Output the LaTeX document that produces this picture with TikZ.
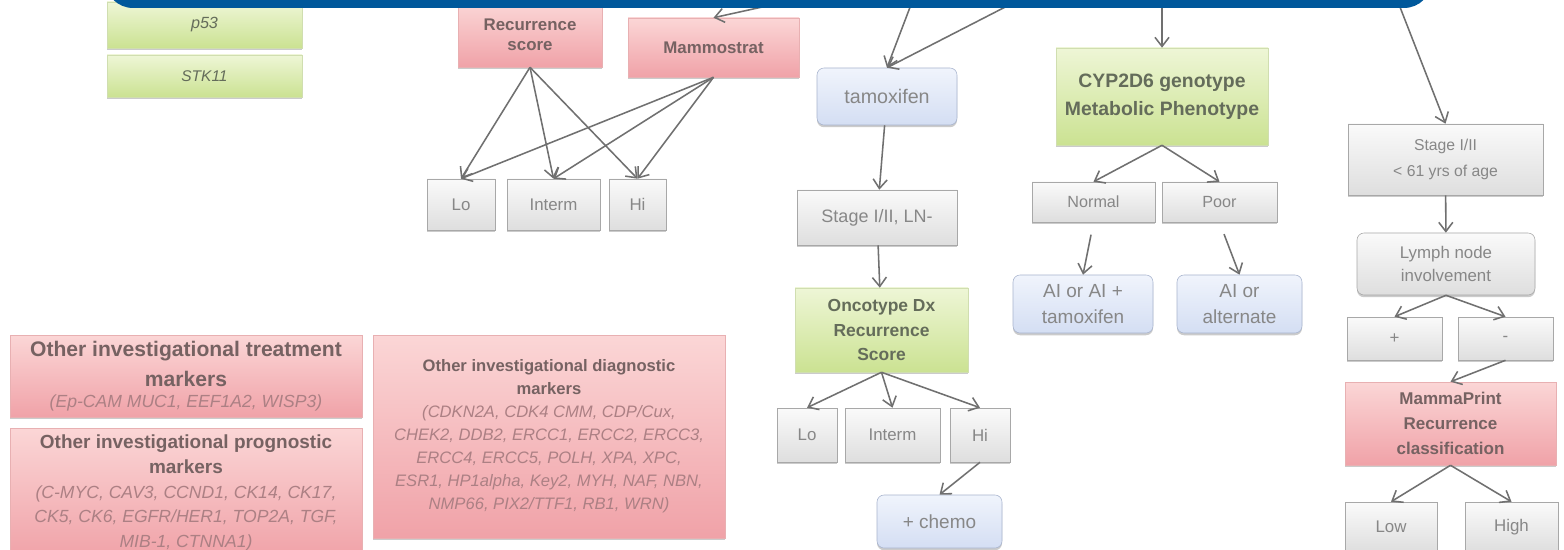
\documentclass[tikz,border=0pt]{standalone}
\usepackage{fontspec}
\setmainfont{Liberation Sans}
\usetikzlibrary{arrows.meta,shadows}

\definecolor{bandblue}{RGB}{0,88,155}
\definecolor{linegrey}{RGB}{112,112,112}
\definecolor{greyline}{RGB}{168,168,168}
\definecolor{greytop}{RGB}{250,250,250}
\definecolor{greybot}{RGB}{222,222,222}
\definecolor{greytext}{RGB}{135,135,135}
\definecolor{greentop}{RGB}{238,246,214}
\definecolor{greenbot}{RGB}{203,226,146}
\definecolor{greenline}{RGB}{208,222,176}
\definecolor{greentext}{RGB}{100,108,90}
\definecolor{pinktop}{RGB}{251,214,214}
\definecolor{pinkbot}{RGB}{240,162,168}
\definecolor{pinkline}{RGB}{232,176,178}
\definecolor{pinktext}{RGB}{118,98,98}
\definecolor{pinkital}{RGB}{172,128,132}
\definecolor{bluetop}{RGB}{240,244,252}
\definecolor{bluebot}{RGB}{212,222,243}
\definecolor{blueline}{RGB}{168,180,206}

\newcommand{\fsz}[2]{\fontsize{#1}{#2}\selectfont}
\newcommand{\mtitle}[2]{{\fsz{#1}{14.7}\bfseries\upshape\color{pinktext}#2}}

\begin{document}
\begin{tikzpicture}[x=0.025cm, y=-0.025cm,
    every node/.style={rectangle, align=center, inner sep=1pt},
    sz/.style 2 args={minimum width=#1*0.025cm, minimum height=#2*0.025cm},
    boxshadow/.style={drop shadow={shadow xshift=0pt, shadow yshift=-1.6pt, opacity=0.45, fill=black!45}},
    greybox/.style={draw=greyline, top color=greytop, bottom color=greybot, text=greytext, font=\fsz{12}{18}, boxshadow},
    bluebox/.style={greybox, rounded corners=5pt, draw=blueline, top color=bluetop, bottom color=bluebot, font=\fsz{13.5}{19}},
    greenbox/.style={draw=greenline, top color=greentop, bottom color=greenbot, text=greentext, font=\fsz{12.4}{17.5}\bfseries, boxshadow},
    pinkbox/.style={draw=pinkline, top color=pinktop, bottom color=pinkbot, text=pinktext, font=\fsz{12}{14.5}\bfseries, boxshadow},
    markerbox/.style={pinkbox, text=pinkital, font=\fsz{12.5}{15}\itshape},
    link/.style={->, draw=linegrey, line width=1.1pt},
    >={Straight Barb[length=6.5pt, width=10pt]}]
  \fill[white] (0,0) rectangle (1564,550);
  \useasboundingbox (0,0) rectangle (1564,550);

  \node[greenbox, sz={195}{46}, font=\fsz{11.5}{14}\itshape] (p53) at (204.5,25) {p53};
  \node[greenbox, sz={195}{42}, font=\fsz{11}{14}\itshape] (stk) at (204.5,76) {STK11};

  \node[pinkbox, sz={144}{64}] (recsc) at (530,35) {Recurrence\\score};
  \node[pinkbox, sz={171}{59}] (mammo) at (713.5,47.5) {Mammostrat};
  \node[greybox, sz={68}{51}] (lo1) at (461,204.5) {Lo};
  \node[greybox, sz={93}{51}] (int1) at (553.5,204.5) {Interm};
  \node[greybox, sz={57}{51}] (hi1) at (637.5,204.5) {Hi};

  \node[bluebox, sz={140}{57}, font=\fsz{14}{19}] (tamox) at (887,96.5) {tamoxifen};
  \node[greybox, sz={160}{55}, font=\fsz{12.8}{18}] (stage1) at (877,217.5) {Stage I/II, LN-};
  \node[greenbox, sz={173}{84}] (onco) at (881.5,330) {Oncotype Dx\\Recurrence\\Score};
  \node[greybox, sz={60}{54}] (lo2) at (807,435) {Lo};
  \node[greybox, sz={95}{54}] (int2) at (892.5,435) {Interm};
  \node[greybox, sz={60}{54}] (hi2) at (980,435) {Hi};
  \node[bluebox, sz={125}{53}] (chemo) at (939.5,521.5) {+ chemo};

  \node[greenbox, sz={212}{97}, font=\fsz{13.8}{20}\bfseries] (cyp) at (1162,96.5) {CYP2D6 genotype\\Metabolic Phenotype};
  \node[greybox, sz={123}{40}, font=\fsz{11.5}{16}] (normal) at (1093.5,202) {Normal};
  \node[greybox, sz={115}{40}, font=\fsz{11.5}{16}] (poor) at (1219.5,202) {Poor};
  \node[bluebox, sz={140}{58}] (aitam) at (1083,304) {AI or AI +\\tamoxifen};
  \node[bluebox, sz={125}{58}] (aialt) at (1239.5,304) {AI or\\alternate};

  \node[greybox, sz={195}{71}, font=\fsz{11.2}{19}] (stage2) at (1445.5,159.5) {Stage I/II\\< 61 yrs of age};
  \node[greybox, rounded corners=5pt, sz={178}{62}, font=\fsz{12}{16}] (lymph) at (1446,264) {Lymph node\\involvement};
  \node[greybox, sz={95}{43}] (plus) at (1394.5,338.5) {+};
  \node[greybox, sz={95}{43}] (minus) at (1505.5,338.5) {-};
  \node[pinkbox, sz={211}{83}, font=\fsz{12.1}{18}\bfseries] (mprint) at (1450.5,423.5) {MammaPrint\\Recurrence\\classification};
  \node[greybox, sz={92}{50}] (low) at (1391,527) {Low};
  \node[greybox, sz={93}{50}] (high) at (1511.5,527) {High};

  \node[markerbox, sz={352}{82}] (treat) at (186,376) {\mtitle{15}{Other investigational treatment}\\[6pt]\mtitle{15}{markers}\\(Ep-CAM MUC1, EEF1A2, WISP3)};
  \node[markerbox, sz={352}{130}, font=\fsz{12.5}{17.6}\itshape] (prog) at (186,493) {\mtitle{13.5}{Other investigational prognostic}\\\mtitle{13.5}{markers}\\(C-MYC, CAV3, CCND1, CK14, CK17,\\CK5, CK6, EGFR/HER1, TOP2A, TGF,\\MIB-1, CTNNA1)};
  \node[markerbox, sz={352}{203}, font=\fsz{11.8}{16.4}\itshape] (diag) at (549,436.5) {\mtitle{11.8}{Other investigational diagnostic}\\\mtitle{11.8}{markers}\\(CDKN2A, CDK4 CMM, CDP/Cux,\\CHEK2, DDB2, ERCC1, ERCC2, ERCC3,\\ERCC4, ERCC5, POLH, XPA, XPC,\\ESR1, HP1alpha, Key2, MYH, NAF, NBN,\\NMP66, PIX2/TTF1, RB1, WRN)};

  % Arrows
  \coordinate (inA) at (785,2);
  \coordinate (inB) at (912,2);
  \coordinate (inC) at (1015,2);
  \coordinate (inD) at (1162,2);
  \coordinate (inE) at (1398,2);
  \draw[link] (inA) -- (mammo.north);
  \draw[link] (recsc.south) -- (lo1.north);
  \draw[link] (recsc.south) -- (int1.north);
  \draw[link] (recsc.south) -- (hi1.north);
  \draw[link] (mammo.south) -- (lo1.north);
  \draw[link] (mammo.south) -- (int1.north);
  \draw[link] (mammo.south) -- (hi1.north);
  \draw[link] (inB) -- (tamox.north);
  \draw[link] (inC) -- (tamox.north);
  \draw[link] (tamox) -- (stage1);
  \draw[link] (stage1) -- (onco);
  \draw[link] (onco.south) -- (lo2.north);
  \draw[link] (onco.south) -- (int2.north);
  \draw[link] (onco.south) -- (hi2.north);
  \draw[link] (hi2.south) -- (chemo.north);
  \draw[link] (inD) -- (cyp);
  \draw[link] (cyp.south) -- (normal.north);
  \draw[link] (cyp.south) -- (poor.north);
  \draw[link, shorten <=9pt] (normal.south) -- (aitam.north);
  \draw[link, shorten <=9pt] (poor.south) -- (aialt.north);
  \draw[link] (inE) -- (stage2.north);
  \draw[link] (stage2) -- (lymph);
  \draw[link] (lymph.south) -- (plus.north);
  \draw[link] (lymph.south) -- (minus.north);
  \draw[link] (minus.south) -- (mprint.north);
  \draw[link] (mprint.south) -- (low.north);
  \draw[link] (mprint.south) -- (high.north);

  \fill[bandblue, rounded corners=20pt] (105,-40) rectangle (1432,8);
\end{tikzpicture}
\end{document}
